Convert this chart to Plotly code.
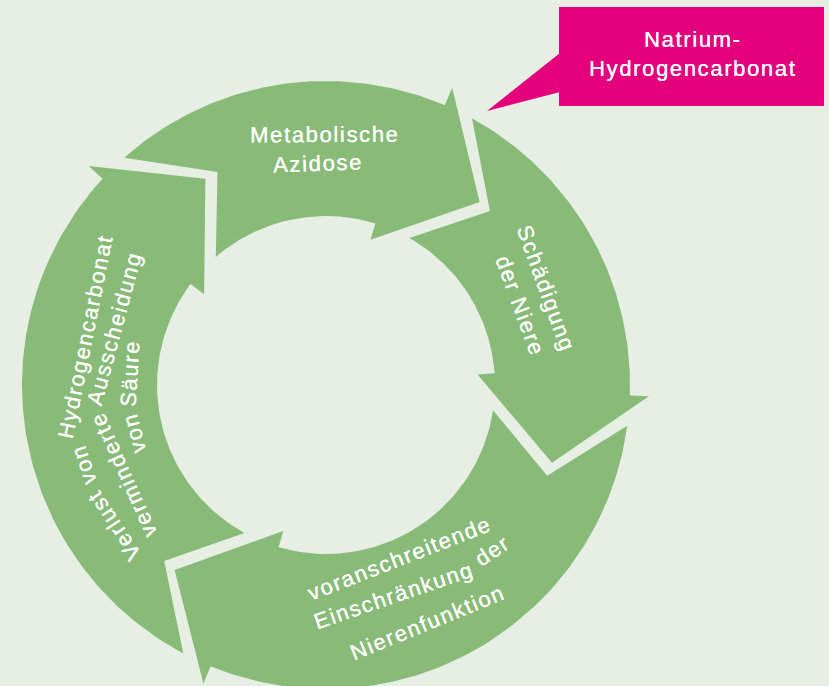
import math
import plotly.graph_objects as go

# ---------------- data ----------------
stage_names = [
    "Metabolische Azidose",
    "Schädigung der Niere",
    "voranschreitende Einschränkung der Nierenfunktion",
    "Verlust von Hydrogencarbonat / verminderte Ausscheidung von Säure",
]
stage_lines = [
    ["Metabolische", "Azidose"],
    ["Schädigung", "der Niere"],
    ["voranschreitende", "Einschränkung der", "Nierenfunktion"],
    ["Verlust von Hydrogencarbonat", "verminderte Ausscheidung", "von Säure"],
]
# compass angle (deg, clockwise from top) at which each arrow points (its tip)
tip_angles = [40.0, 109.0, 219.3, 329.7]
callout_lines = ["Natrium-", "Hydrogencarbonat"]

# ---------------- style / geometry ----------------
W, H = 829, 686
CX, CY = 326.0, 385.0
R_OUT, R_IN, R_TIP = 304.0, 169.0, 239.0
BG = "#E7EFE4"
GREEN = "#88BA78"
MAGENTA = "#E4007C"
FONT = "Liberation Sans, Arial, sans-serif"
FS = 22
TRACK = 1.65
SHADOW = "0.25px 0 0 #ffffff"

# per line: (radius, compass angle of chord centre, reading direction in screen deg,
#            curvature radius (negative = bowl shape) or None, centre given as chord midpoint?)
line_layout = [
    [(255, -0.3, -0.3, 300, False), (223, -2.0, -2.0, 300, False)],
    [(240.6, 66.3, 70.0, None, False), (209.5, 67.8, 70.0, None, False)],
    [(184.5, 157.1, -21.3, -420, True), (213.3, 156.4, -21.8, -420, True),
     (255.7, 156.8, -22.2, -420, True)],
    [(256, 266.0, -94.0, 256, False), (226, 267.0, -93.0, 226, False), (198, 266.5, -93.5, 198, False)],
]

ARIAL = {' ': 278, '-': 333,
         'a': 556, 'b': 556, 'c': 500, 'd': 556, 'e': 556, 'f': 278, 'g': 556, 'h': 556, 'i': 222,
         'j': 222, 'k': 500, 'l': 222, 'm': 833, 'n': 556, 'o': 556, 'p': 556, 'q': 556, 'r': 333,
         's': 500, 't': 278, 'u': 556, 'v': 500, 'w': 722, 'x': 500, 'y': 500, 'z': 500,
         'ä': 556, 'ö': 556, 'ü': 556,
         'A': 667, 'B': 667, 'C': 722, 'D': 722, 'E': 667, 'F': 611, 'G': 778, 'H': 722, 'I': 278,
         'J': 500, 'K': 667, 'L': 556, 'M': 833, 'N': 722, 'O': 778, 'P': 667, 'Q': 778, 'R': 722,
         'S': 667, 'T': 611, 'U': 722, 'V': 667, 'W': 944, 'X': 667, 'Y': 667, 'Z': 611}


def pt(r, th):
    t = math.radians(th)
    return CX + r * math.sin(t), CY - r * math.cos(t)


def char_w(c):
    return ARIAL.get(c, 556) * FS / 1000.0


def word_w(w):
    return sum(char_w(c) for c in w) + TRACK * (len(w) - 1)


def tracked(w):
    return '<span style="letter-spacing:%.2fpx">%s</span>' % (TRACK, w)


def label_font():
    return dict(family=FONT, size=FS, color="white", shadow=SHADOW)


def arrow_path(ts, te):
    if te < ts:
        te += 360
    xs, ys = [], []

    def add(p):
        xs.append(p[0]); ys.append(p[1])
    a0, a1 = ts - 11.3, te - 17.0
    n = 90
    for i in range(n + 1):
        add(pt(R_OUT, a0 + (a1 - a0) * i / n))
    add(pt(R_OUT + 19, te - 17.0))
    add(pt(R_TIP, te))
    add(pt(R_IN - 17, te - 23.0))
    b0, b1 = te - 23.0, ts - 10.4
    for i in range(n + 1):
        add(pt(R_IN, b0 + (b1 - b0) * i / n))
    add(pt(R_TIP, ts + 3.3))
    xs.append(xs[0]); ys.append(ys[0])
    return xs, ys


fig = go.Figure()
tails = [tip_angles[-1]] + tip_angles[:-1]
for name, ts, te in zip(stage_names, tails, tip_angles):
    xs, ys = arrow_path(ts, te)
    fig.add_trace(go.Scatter(x=xs, y=ys, mode="lines", fill="toself", fillcolor=GREEN,
                             line=dict(width=0, color=GREEN), name=name, hoverinfo="skip",
                             showlegend=False))

annotations = []


def place_line(text, cx, cy, alpha, Rc, chord):
    words = text.split(" ")
    widths = [word_w(w) for w in words]
    gap = ARIAL[' '] * FS / 1000.0 + 2 * TRACK
    L = sum(widths) + gap * (len(words) - 1)
    a = math.radians(alpha)
    d = (math.cos(a), math.sin(a))
    u = (math.sin(a), -math.cos(a))
    if chord and Rc is not None:
        # given centre is the chord midpoint between first and last glyph: move onto the arc
        Li = L - (char_w(text[0]) + char_w(text[-1])) / 2
        sag = Li ** 2 / (8 * Rc)
        cx, cy = cx + u[0] * sag, cy + u[1] * sag
    s = -L / 2
    for w, wd in zip(words, widths):
        sc = s + wd / 2
        if Rc is None:
            px, py, ang = cx + d[0] * sc, cy + d[1] * sc, alpha
        else:
            phi = sc / Rc
            rr = Rc - wd ** 2 / (16 * Rc)
            ox, oy = cx - u[0] * Rc, cy - u[1] * Rc
            px = ox + rr * (u[0] * math.cos(phi) + d[0] * math.sin(phi))
            py = oy + rr * (u[1] * math.cos(phi) + d[1] * math.sin(phi))
            ang = alpha + math.degrees(phi)
        annotations.append(dict(x=px, y=py, xref="x", yref="y", text=tracked(w), textangle=ang,
                                showarrow=False, xanchor="center", yanchor="middle",
                                font=label_font()))
        s += wd + gap


for lines, lays in zip(stage_lines, line_layout):
    for txt, (r, th, alpha, Rc, chord) in zip(lines, lays):
        cx, cy = pt(r, th)
        place_line(txt, cx, cy, alpha, Rc, chord)

# callout
shapes = [
    dict(type="rect", xref="x", yref="y", x0=559, x1=824, y0=7, y1=106,
         fillcolor=MAGENTA, line=dict(width=0), layer="above"),
    dict(type="path", xref="x", yref="y", path="M 560 53 L 560 92 L 487 111 Z",
         fillcolor=MAGENTA, line=dict(width=0), layer="above"),
]
for txt, yc in zip(callout_lines, [39.5, 68.5]):
    annotations.append(dict(x=692.5, y=yc, xref="x", yref="y", text=tracked(txt), showarrow=False,
                            xanchor="center", yanchor="middle", font=label_font()))

fig.update_layout(
    width=W, height=H, autosize=False,
    margin=dict(l=0, r=0, t=0, b=0, pad=0),
    paper_bgcolor=BG, plot_bgcolor=BG,
    xaxis=dict(range=[0, W], visible=False, fixedrange=True),
    yaxis=dict(range=[H, 0], visible=False, fixedrange=True),
    showlegend=False,
    annotations=annotations,
    shapes=shapes,
)

fig.write_html("out.html", config={"displayModeBar": False},
               post_script="document.body.style.margin='0';document.body.style.overflow='hidden';")
